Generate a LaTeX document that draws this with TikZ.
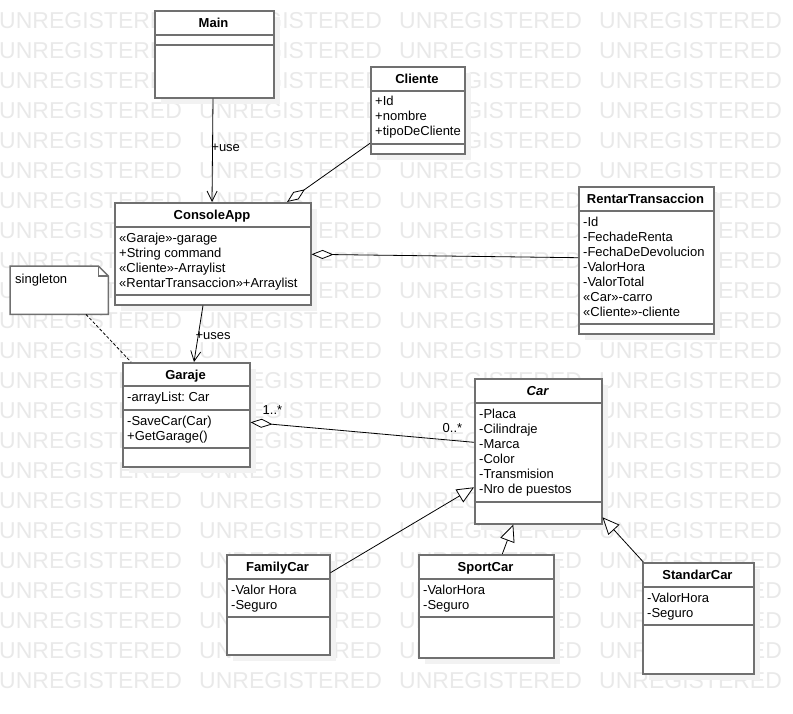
\documentclass[tikz,border=0pt]{standalone}
\usepackage{fontspec}
\setmainfont{Liberation Sans}
\usepackage{tikz}
\usetikzlibrary{positioning}
\usetikzlibrary{arrows.meta}
\usetikzlibrary{shadows}

\definecolor{borde}{RGB}{112,112,112}
\definecolor{marca}{RGB}{233,233,233}

\begin{document}
\frenchspacing
\begin{tikzpicture}[x=1pt, y=-1pt,
    every node/.style={font=\fontsize{13}{15}\selectfont},
    clase/.style={draw=borde, line width=1.5pt, fill=white, anchor=north west, inner sep=0pt,
      drop shadow={shadow xshift=6pt, shadow yshift=-6pt, fill=black!5, opacity=1}},
    titulo/.style={anchor=base, inner sep=0pt, font=\fontsize{13}{15}\selectfont\bfseries},
    attr/.style={anchor=base west, align=left, inner sep=0pt},
    sep/.style={draw=borde, line width=1.5pt},
    dep/.style={-{Straight Barb[length=10pt, width=10pt]}, line width=0.8pt},
    agreg/.style={{Diamond[fill=white, length=22pt, width=9pt]}-, line width=0.8pt},
    hereda/.style={-{Triangle[fill=white, length=17pt, width=15pt]}, line width=0.8pt}]
            \useasboundingbox (0,0) rectangle (793,713);

            % Marca de agua
            \foreach \f in {0,...,22}
              \foreach \c in {0,200,400,600}
                \node[anchor=base west, inner sep=0pt, text=marca, font=\fontsize{23}{23}\selectfont] (m\f-\c) at (\c-1, 28+30*\f) {UNREGISTERED};

            % Clases
            \node[clase, minimum width=119pt, minimum height=87pt] (main) at (154,10) {};
            \node[clase, minimum width=94pt, minimum height=87pt] (cliente) at (370,66) {};
            \node[clase, minimum width=196pt, minimum height=102pt] (consoleapp) at (114,202) {};
            \node[clase, minimum width=127pt, minimum height=104pt] (garaje) at (122,362) {};
            \node[clase, minimum width=135pt, minimum height=147pt] (rentar) at (578,186) {};
            \node[clase, minimum width=127pt, minimum height=145pt] (car) at (474,378) {};
            \node[clase, minimum width=103pt, minimum height=100pt] (familycar) at (226,554) {};
            \node[clase, minimum width=135pt, minimum height=103pt] (sportcar) at (418,554) {};
            \node[clase, minimum width=111pt, minimum height=111pt] (standarcar) at (642,562) {};

            % Separadores
            \draw[sep] (main.west |- 0,35) -- (main.east |- 0,35);
            \draw[sep] (main.west |- 0,45) -- (main.east |- 0,45);
            \draw[sep] (cliente.west |- 0,91) -- (cliente.east |- 0,91);
            \draw[sep] (cliente.west |- 0,144) -- (cliente.east |- 0,144);
            \draw[sep] (consoleapp.west |- 0,227) -- (consoleapp.east |- 0,227);
            \draw[sep] (consoleapp.west |- 0,295) -- (consoleapp.east |- 0,295);
            \draw[sep] (garaje.west |- 0,386) -- (garaje.east |- 0,386);
            \draw[sep] (garaje.west |- 0,410) -- (garaje.east |- 0,410);
            \draw[sep] (garaje.west |- 0,448) -- (garaje.east |- 0,448);
            \draw[sep] (rentar.west |- 0,211) -- (rentar.east |- 0,211);
            \draw[sep] (rentar.west |- 0,324) -- (rentar.east |- 0,324);
            \draw[sep] (car.west |- 0,403) -- (car.east |- 0,403);
            \draw[sep] (car.west |- 0,502) -- (car.east |- 0,502);
            \draw[sep] (familycar.west |- 0,579) -- (familycar.east |- 0,579);
            \draw[sep] (familycar.west |- 0,617) -- (familycar.east |- 0,617);
            \draw[sep] (sportcar.west |- 0,579) -- (sportcar.east |- 0,579);
            \draw[sep] (sportcar.west |- 0,617) -- (sportcar.east |- 0,617);
            \draw[sep] (standarcar.west |- 0,587) -- (standarcar.east |- 0,587);
            \draw[sep] (standarcar.west |- 0,625) -- (standarcar.east |- 0,625);

            % Titulos
            \node[titulo] (mainT) at (213.5,27.4) {Main};
            \node[titulo] (clienteT) at (417,83.4) {Cliente};
            \node[titulo] (consoleappT) at (212,219) {ConsoleApp};
            \node[titulo] (garajeT) at (185.5,379.7) {Garaje};
            \node[titulo] (rentarT) at (645.5,203.4) {RentarTransaccion};
            \node[titulo] (carT) at (537.5,395.4) {\itshape Car};
            \node[titulo] (familycarT) at (277.5,571.4) {FamilyCar};
            \node[titulo] (sportcarT) at (485.5,571.4) {SportCar};
            \node[titulo] (standarcarT) at (697.5,579.4) {StandarCar};

            % Atributos (base = ultima linea)
            \node[attr] (clienteA) at (375,135.7) {+Id\\+nombre\\+tipoDeCliente};
            \node[attr] (consoleappA) at (119,287.7) {«Garaje»-garage\\+String command\\«Cliente»-Arraylist\\«RentarTransaccion»+Arraylist};
            \node[attr] (garajeA) at (127,401.7) {-arrayList: Car};
            \node[attr] (garajeM) at (127,440.7) {-SaveCar(Car)\\+GetGarage()};
            \node[attr] (rentarA) at (583,316.4) {-Id\\-FechadeRenta\\-FechaDeDevolucion\\-ValorHora\\-ValorTotal\\«Car»-carro\\«Cliente»-cliente};
            \node[attr] (carA) at (479,493.7) {-Placa\\-Cilindraje\\-Marca\\-Color\\-Transmision\\-Nro de puestos};
            \node[attr] (familycarA) at (231,609) {-Valor Hora\\-Seguro};
            \node[attr] (sportcarA) at (423,609) {-ValorHora\\-Seguro};
            \node[attr] (standarcarA) at (647,617.4) {-ValorHora\\-Seguro};

            % Nota
            \node[anchor=north west, minimum width=98pt, minimum height=48pt, inner sep=0pt] (nota) at (10,266) {};
            \filldraw[sep, fill=white] (nota.north west) -- ([xshift=-10pt]nota.north east) -- ([yshift=-10pt]nota.north east) -- (nota.south east) -- (nota.south west) -- cycle;
            \draw[sep] ([xshift=-10pt]nota.north east) |- ([yshift=-10pt]nota.north east);
            \node[anchor=base west, inner sep=0pt] (notaT) at (15,283) {singleton};

            % Relaciones
            \draw[dep] (main.south -| 213,0) -- (consoleapp.north -| 212,0)
              node[pos=0.48, anchor=west, inner sep=0pt, xshift=-1.5pt] (use) {+use};
            \draw[agreg] (consoleapp.north -| 287,0) -- (cliente.west |- 0,143.3);
            \draw[agreg] (consoleapp.east |- 0,254.3) -- (rentar.west |- 0,257.7);
            \draw[dep] (consoleapp.south -| 203,0) -- (garaje.north -| 194,0)
              node[pos=0.54, anchor=west, inner sep=0pt, xshift=-3pt] (uses) {+uses};
            \draw[dashed, dash pattern=on 3pt off 2pt, line width=0.8pt] (nota.south -| 86,0) -- (garaje.north -| 131,0);
            \draw[agreg] (garaje.east |- 0,422.3) -- (car.west |- 0,442.3);
            \node (mult1) at (272.5,410) {1..*};
            \node (mult2) at (452.5,428.3) {0..*};
            \draw[hereda] (familycar.east |- 0,572.7) -- (car.west |- 0,487.3);
            \draw[hereda] (sportcar.north -| 502.3,0) -- (car.south -| 513.3,0);
            \draw[hereda] (standarcar.north -| 643.3,0) -- (car.east |- 0,517.3);
          \end{tikzpicture}
\end{document}
